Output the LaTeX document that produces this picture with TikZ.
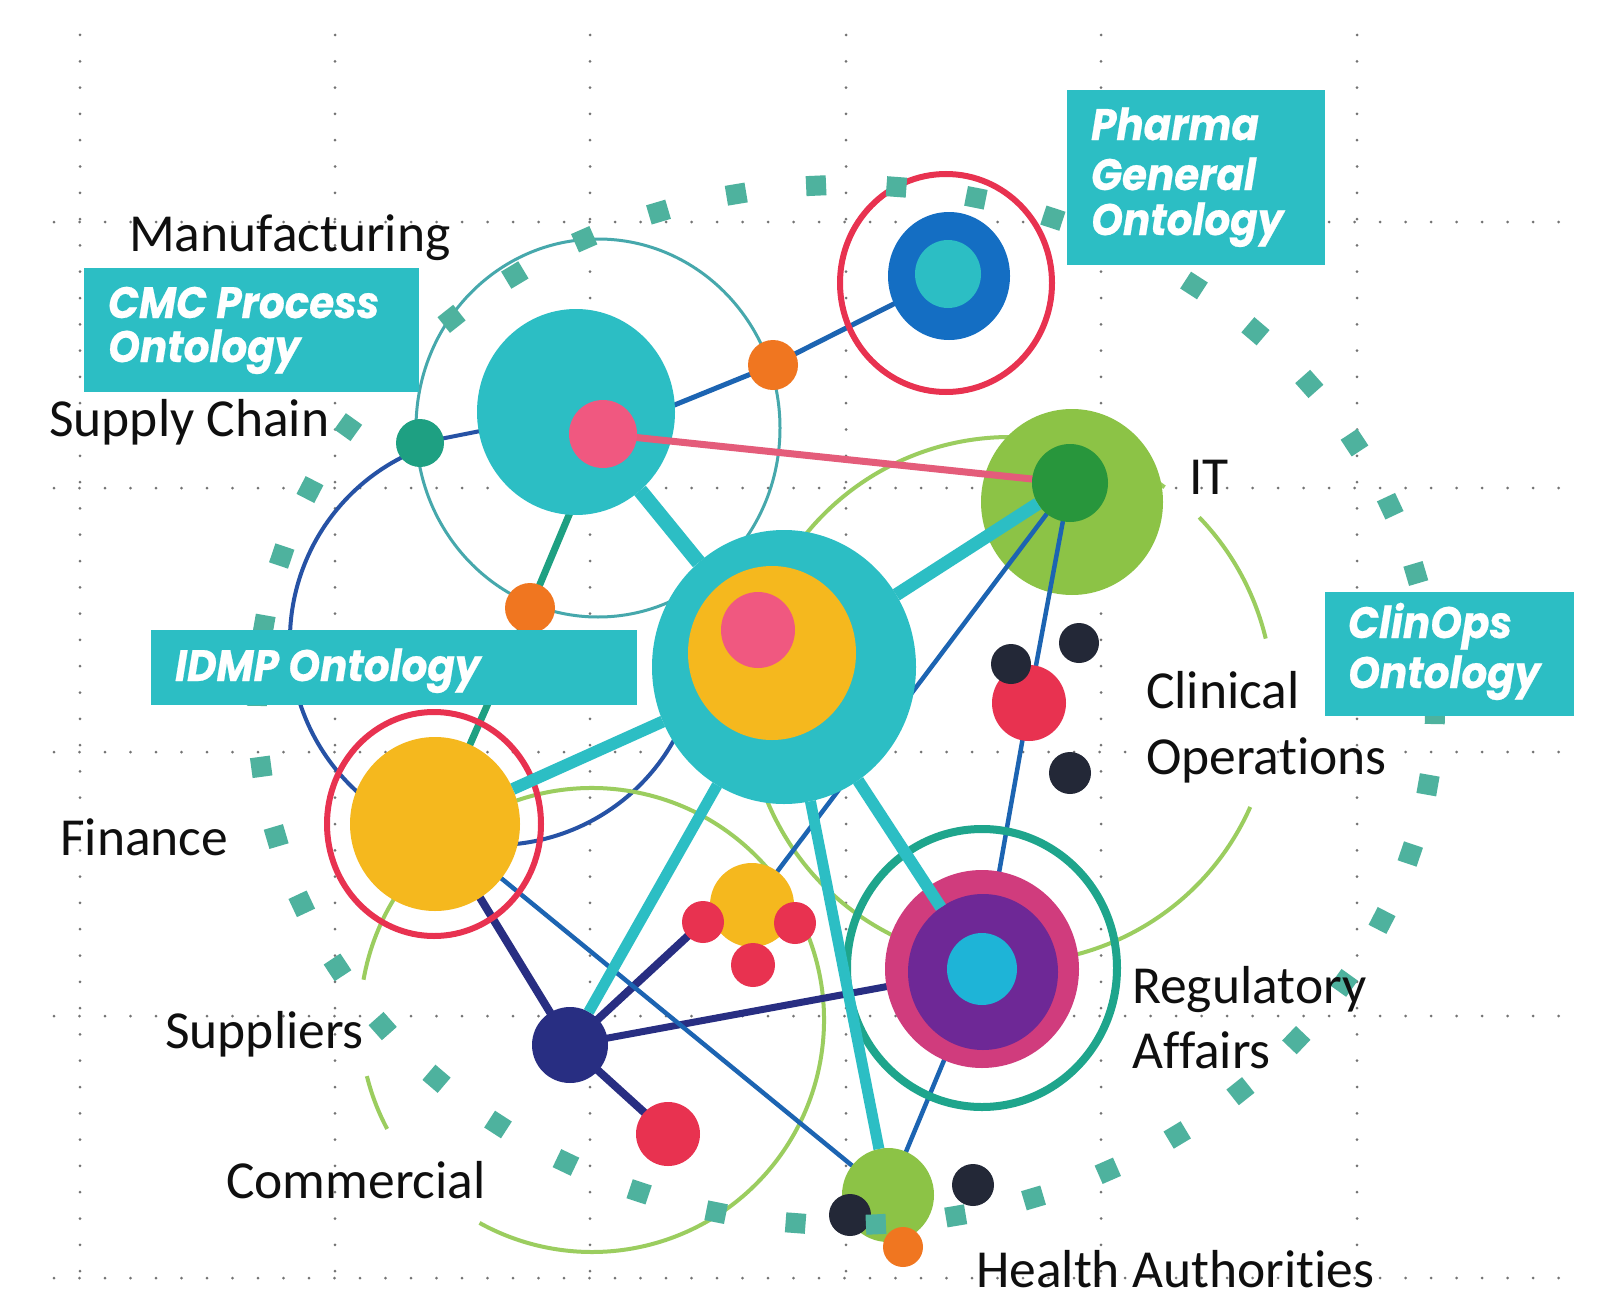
\documentclass[tikz,border=0pt]{standalone}
\usepackage{fontspec}
\setmainfont{Carlito}[Ligatures={NoCommon}]
\newfontfamily\popfont{Poppins}[FakeStretch=0.92, FakeBold=0.5]
\usetikzlibrary{shapes.geometric}
\definecolor{tealA}{RGB}{44,190,196}
\definecolor{tealR}{RGB}{70,168,172}
\definecolor{pinkA}{RGB}{240,88,128}
\definecolor{pinkL}{RGB}{228,92,122}
\definecolor{orangeA}{RGB}{240,118,32}
\definecolor{sgreen}{RGB}{30,160,130}
\definecolor{blueA}{RGB}{28,100,178}
\definecolor{blueD}{RGB}{38,82,165}
\definecolor{navyA}{RGB}{40,46,130}
\definecolor{redA}{RGB}{232,50,80}
\definecolor{yellowA}{RGB}{245,184,30}
\definecolor{lgreen}{RGB}{140,195,70}
\definecolor{dgreen}{RGB}{40,150,60}
\definecolor{arcgreen}{RGB}{155,205,95}
\definecolor{magA}{RGB}{208,60,125}
\definecolor{purA}{RGB}{110,40,150}
\definecolor{cyanA}{RGB}{30,180,215}
\definecolor{pblueA}{RGB}{20,110,195}
\definecolor{darkA}{RGB}{35,40,55}
\definecolor{sqcol}{RGB}{78,178,158}
\definecolor{regring}{RGB}{30,165,140}
\definecolor{txt}{RGB}{15,15,15}
\pgfdeclarelayer{grid}
\pgfdeclarelayer{arcs}
\pgfdeclarelayer{low}
\pgfdeclarelayer{lower}
\pgfdeclarelayer{mid}
\pgfdeclarelayer{over}
\pgfdeclarelayer{deco}
\pgfdeclarelayer{top}
\pgfsetlayers{grid,arcs,low,lower,mid,main,over,deco,top}
\begin{document}
\begin{tikzpicture}[x=1pt,y=-1pt,
  blob/.style={ellipse, inner sep=0pt, outer sep=0pt, fill=#1, draw=none},
  ringn/.style={ellipse, inner sep=0pt, outer sep=0pt, draw=#1, fill=none},
  wh/.style 2 args={minimum width=#1pt, minimum height=#2pt},
  hgrid/.style={line width=3pt, line cap=round, dash pattern=on 0pt off 25.5pt, draw=black!55},
  vgrid/.style={line width=3pt, line cap=round, dash pattern=on 0pt off 26.3pt, draw=black!55},
  bluel/.style={draw=blueA, line width=4.5pt},
  navyl/.style={draw=navyA, line width=8pt},
  sgl/.style={draw=sgreen, line width=7pt},
  pinkl/.style={draw=pinkL, line width=7pt},
  tealth/.style={draw=tealA, line width=12pt},
  garc/.style={draw=arcgreen, line width=4pt},
  sqr/.style={rectangle, fill=sqcol, minimum size=20pt, inner sep=0pt},
  lbl/.style={font=\fontsize{53.5}{64}\selectfont, text=txt, inner sep=0pt, anchor=base west},
  otext/.style={font=\popfont\bfseries\itshape\fontsize{44}{48}\selectfont, text=white, inner sep=0pt, anchor=base west},
  obox/.style={rectangle, fill=tealA, inner sep=0pt, anchor=north west}
]
\useasboundingbox (0,0) rectangle (1614,1303);
% ---------- background grid ----------
\begin{pgfonlayer}{grid}
\fill[white] (0,0) rectangle (1614,1303);
\foreach \y in {222,488,752,1016,1278} \draw[hgrid] (54,\y) -- (1570,\y);
\foreach \x in {80,335,590,846,1101,1357} \draw[vgrid] (\x,35) -- (\x,1285);
\end{pgfonlayer}

% ---------- lower big nodes ----------
\begin{pgfonlayer}{lower}
\node[blob=tealA, wh={198}{206}] (mbig) at (576,412) {};
\node[blob=lgreen, wh={182}{186}] (it) at (1072,502) {};
\end{pgfonlayer}

% ---------- main nodes ----------
\node[blob=pinkA, wh={68}{68}] (mpink) at (603,434) {};
\node[blob=orangeA, wh={50}{50}] (morange1) at (773,365) {};
\node[blob=sgreen, wh={48}{48}] (mgreen) at (420,443) {};
\node[blob=orangeA, wh={50}{50}] (morange2) at (530,608) {};
% pharma
\node[ringn=redA, line width=6pt, wh={212}{218}] (pring) at (946,283) {};
\node[blob=pblueA, wh={122}{128}] (pblue) at (949,276) {};
\node[blob=tealA, wh={66}{68}] (pteal) at (948,274) {};
% IT
\node[blob=dgreen, wh={76}{78}] (itin) at (1070,483) {};
% centre
\node[blob=tealA, wh={264}{274}] (cnode) at (784,667) {};
\node[blob=yellowA, wh={168}{174}] (cyellow) at (772,653) {};
\node[blob=pinkA, wh={74}{76}] (cpink) at (758,630) {};
% finance
\node[ringn=redA, line width=6pt, wh={214}{224}] (fring) at (434,824) {};
\node[blob=yellowA, wh={170}{174}] (fyellow) at (435,824) {};
% suppliers / commercial
\node[blob=navyA, wh={76}{76}] (navy) at (570,1045) {};
\node[blob=redA, wh={64}{64}] (cred) at (668,1134) {};
\node[blob=yellowA, wh={84}{84}] (sy) at (752,905) {};
\node[blob=redA, wh={42}{42}] (sr1) at (703,922) {};
\node[blob=redA, wh={42}{42}] (sr2) at (795,923) {};
\node[blob=redA, wh={44}{44}] (sr3) at (753,965) {};
% regulatory
\node[ringn=regring, line width=8pt, wh={270}{278}] (rring) at (982,968) {};
\node[blob=magA, wh={194}{198}] (rmag) at (982,969) {};
\node[blob=purA, wh={150}{156}] (rpur) at (983,972) {};
\node[blob=cyanA, wh={70}{72}] (rcyan) at (982,969) {};
% clinical
\node[blob=redA, wh={74}{76}] (clred) at (1029,703) {};
\node[blob=darkA, wh={40}{40}] (clb1) at (1011,664) {};
\node[blob=darkA, wh={40}{40}] (clb2) at (1079,643) {};
\node[blob=darkA, wh={42}{42}] (clb3) at (1070,773) {};
% health authorities
\node[blob=lgreen, wh={92}{94}] (ha) at (888,1195) {};
\node[blob=darkA, wh={42}{42}] (hab1) at (850,1215) {};
\node[blob=darkA, wh={42}{42}] (hab2) at (973,1185) {};
\node[blob=orangeA, wh={40}{40}] (haor) at (903,1247) {};

% ---------- thin circles / arcs ----------
\begin{pgfonlayer}{arcs}
\node[ringn=tealR, line width=3pt, wh={364}{378}] (mring) at (598,428) {};
\coordinate (bc) at (495,640);
\draw[draw=blueD, line width=4pt] ([shift={(20:205)}]bc) arc[start angle=20, end angle=249, radius=205];
\coordinate (gc1) at (1010,700);
\draw[garc] ([shift={(24:263)}]gc1) arc[start angle=24, end angle=306, radius=263];
\draw[garc] ([shift={(316:263)}]gc1) arc[start angle=316, end angle=346.5, radius=263];
\coordinate (gc2) at (592,1020);
\draw[garc] ([shift={(190:232)}]gc2) arc[start angle=190, end angle=479, radius=232];
\draw[garc] ([shift={(152:232)}]gc2) arc[start angle=152, end angle=166, radius=232];
\end{pgfonlayer}

% ---------- connectors under nodes ----------
\begin{pgfonlayer}{low}
\draw[bluel, line width=5pt] (pblue.center) -- (morange1.center) -- (mpink.center);
\draw[draw=blueD, line width=4pt] (mgreen.center) -- (mbig.center);
\draw[sgl] (mpink.center) -- (morange2.center) -- (fyellow.center);
\draw[navyl] (navy.center) -- (fyellow.center);
\draw[navyl] (navy.center) -- (cred.center);
\draw[navyl] (navy.center) -- (sr1.center);
\draw[navyl, line width=7pt] (navy.center) -- (rmag.center);
\draw[bluel] (fyellow.center) -- (ha.center);
\draw[bluel] (rmag.center) -- (ha.center);
\draw[bluel] (clred.center) -- (rmag.center);
\end{pgfonlayer}
\begin{pgfonlayer}{mid}
\draw[pinkl] (mpink.center) -- (itin.center);
\draw[bluel] (itin.center) -- (sy.center);
\draw[bluel] (itin.center) -- (clred.center);
\end{pgfonlayer}
% ---------- thick teal spokes ----------
\begin{pgfonlayer}{over}
\draw[tealth, line width=15pt] (cnode) -- (mbig);
\draw[tealth, line width=13pt] (cnode) -- (itin);
\draw[tealth] (cnode) -- (fyellow);
\draw[tealth, line width=11pt] (cnode) -- (navy);
\draw[tealth, line width=11pt] (cnode) -- (ha);
\draw[tealth] (cnode) -- (rpur);
\end{pgfonlayer}

% ---------- ring of squares ----------
\begin{pgfonlayer}{deco}
\foreach \i in {0,...,45} {
  \pgfmathsetmacro\t{1+\i*360/46}
  \pgfmathsetmacro\rot{atan2(-520*cos(\t),-589*sin(\t))}
  \node[sqr, rotate=\rot] (sq\i) at ({846+589*cos(\t)},{705+520*sin(\t)}) {};
}
\end{pgfonlayer}

% ---------- boxes and labels ----------
\begin{pgfonlayer}{top}
\node[obox, minimum width=335pt, minimum height=124pt] (bcmc) at (84,268) {};
\node[otext] (tcmc1) at (108,318) {CMC Process};
\node[otext] (tcmc2) at (108,362) {Ontology};
\node[obox, minimum width=258pt, minimum height=175pt] (bpharma) at (1067,90) {};
\node[otext] (tph1) at (1091,140) {Pharma};
\node[otext] (tph2) at (1091,190) {General};
\node[otext] (tph3) at (1091,235) {Ontology};
\node[obox, minimum width=249pt, minimum height=124pt] (bclin) at (1325,592) {};
\node[otext] (tcl1) at (1348,638) {ClinOps};
\node[otext] (tcl2) at (1348,688) {Ontology};
\node[obox, minimum width=486pt, minimum height=75pt] (bidmp) at (151,630) {};
\node[otext] (tidmp) at (175,681) {IDMP Ontology};

\node[lbl] (lman) at (129,251) {Manufacturing};
\node[lbl] (lsup) at (49,436) {Supply Chain};
\node[lbl] (lit) at (1189,494) {IT};
\node[lbl] (lcl1) at (1146,708) {Clinical};
\node[lbl] (lcl2) at (1146,774) {Operations};
\node[lbl] (lfin) at (60,855) {Finance};
\node[lbl] (lsupp) at (165,1048) {Suppliers};
\node[lbl] (lcom) at (226,1198) {Commercial};
\node[lbl] (lreg1) at (1132,1003) {Regulatory};
\node[lbl] (lreg2) at (1132,1068) {Affairs};
\node[lbl] (lha) at (976,1287) {Health Authorities};
\end{pgfonlayer}
\end{tikzpicture}
\end{document}
